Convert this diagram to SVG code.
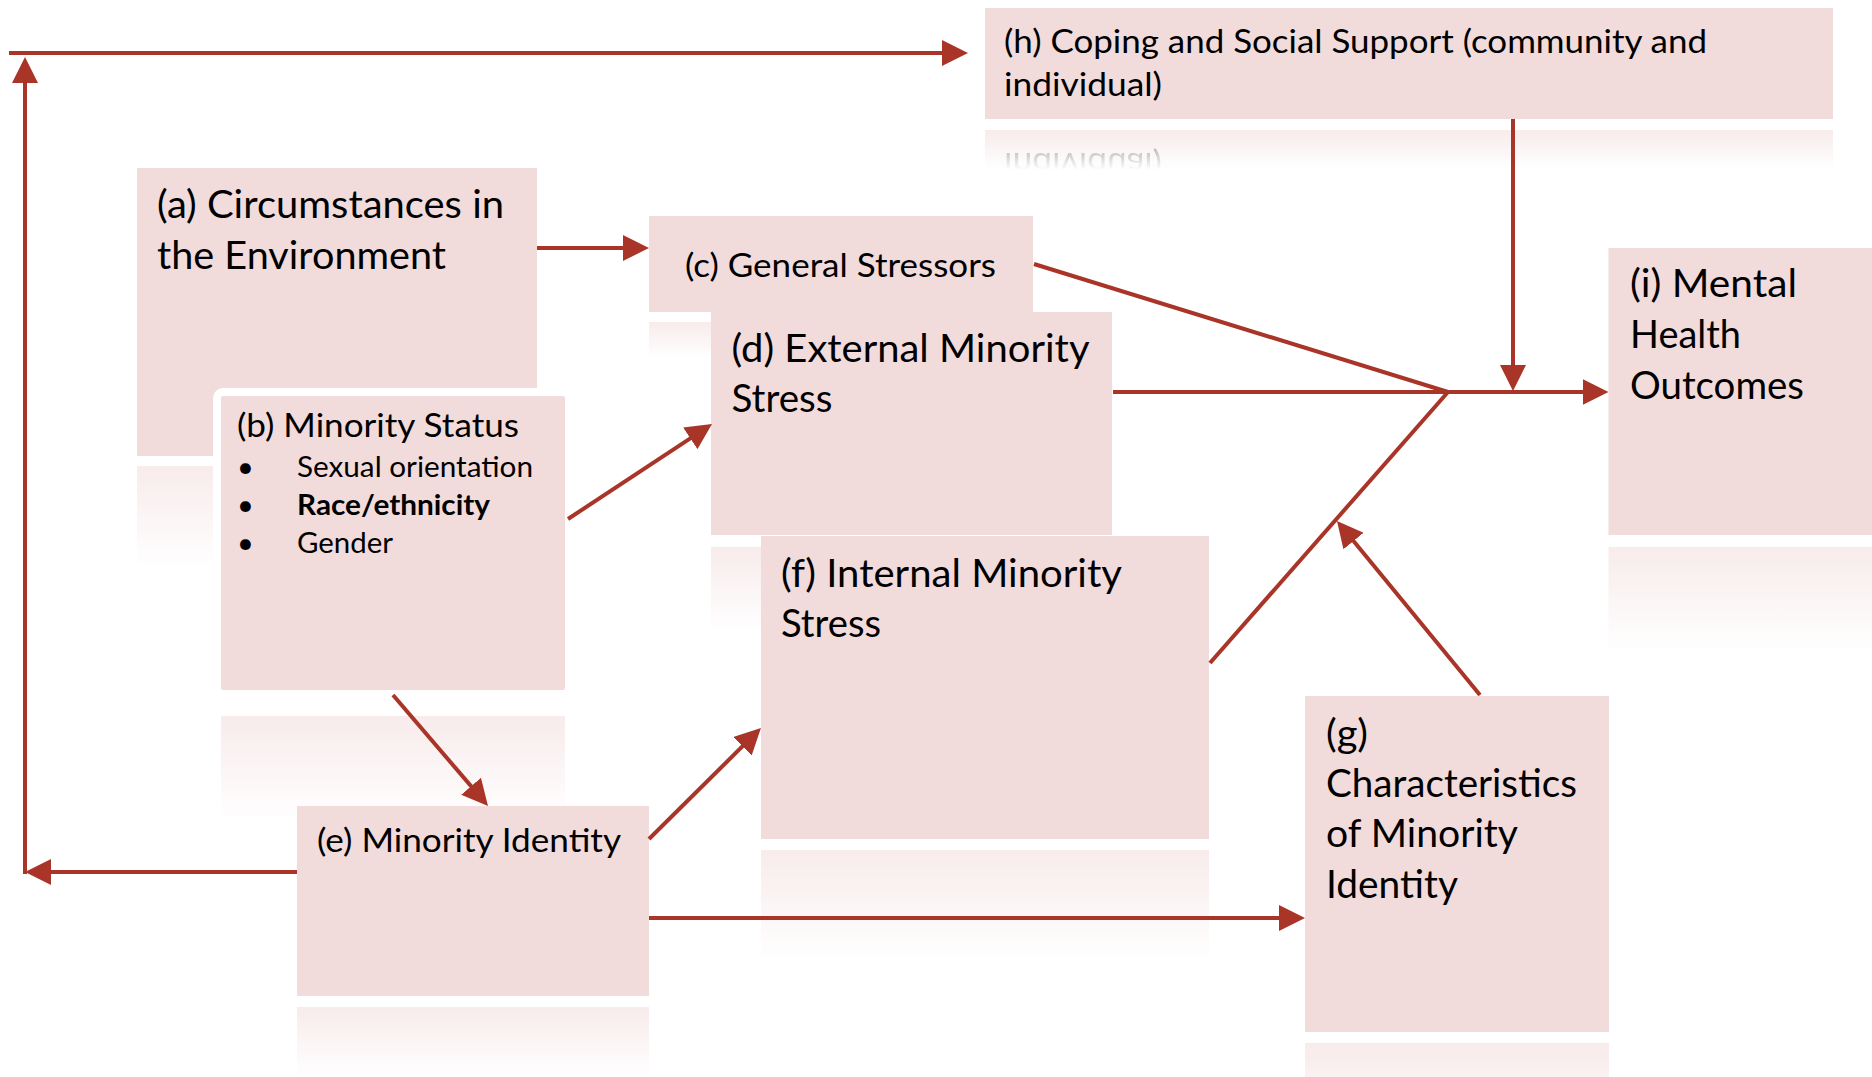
<svg xmlns="http://www.w3.org/2000/svg" width="1872" height="1077" viewBox="0 0 1872 1077">
<style>
.box{fill:#F2DBDB}
.refl{fill:url(#reflGrad)}
.t{font-family:Lato,"Open Sans","Liberation Sans",sans-serif;fill:#000}
.big{font-size:38px}
.mid{font-size:33.5px}
.sm{font-size:29px}
.b{font-weight:bold}
.ln{stroke:#A93428;stroke-width:4;fill:none}
.arr{marker-end:url(#ah)}
</style>
<defs>
<linearGradient id="reflGrad" x1="0" y1="0" x2="0" y2="1">
<stop offset="0" stop-color="#F2DBDB" stop-opacity="0.55"/>
<stop offset="1" stop-color="#F2DBDB" stop-opacity="0"/>
</linearGradient>
<linearGradient id="maskGrad" x1="0" y1="0" x2="0" y2="1">
<stop offset="0" stop-color="#fff" stop-opacity="0.45"/>
<stop offset="1" stop-color="#fff" stop-opacity="0"/>
</linearGradient>
<mask id="hMask" maskUnits="userSpaceOnUse" x="985" y="130" width="848" height="40">
<rect x="985" y="130" width="848" height="40" fill="url(#maskGrad)"/>
</mask>
<marker id="ah" markerUnits="userSpaceOnUse" markerWidth="26" markerHeight="26" refX="20" refY="13" orient="auto" viewBox="0 0 26 26">
<path d="M0,0 L26,13 L0,26 z" fill="#A93428"/>
</marker>
</defs>
<rect width="1872" height="1077" fill="#fff"/>

<g id="node-a">
<rect class="refl" x="137" y="466" width="400" height="101"/>
<rect class="box" x="137" y="168" width="400" height="288"/>
<text class="t big" x="157" y="218" textLength="347" lengthAdjust="spacingAndGlyphs">(a) Circumstances in</text>
<text class="t big" x="157" y="269" textLength="289" lengthAdjust="spacingAndGlyphs">the Environment</text>
</g>

<g id="node-b">
<rect class="refl" x="221" y="716" width="344" height="104"/>
<rect class="box" x="217" y="392" width="352" height="302" rx="6" stroke="#fff" stroke-width="8"/>
<text class="t mid" x="237" y="437" textLength="282" lengthAdjust="spacingAndGlyphs">(b) Minority Status</text>
<text class="t sm" x="237" y="477">•</text>
<text class="t sm" x="297" y="477" textLength="236" lengthAdjust="spacingAndGlyphs">Sexual orientation</text>
<text class="t sm" x="237" y="515">•</text>
<text class="t sm b" x="297" y="515" textLength="193" lengthAdjust="spacingAndGlyphs">Race/ethnicity</text>
<text class="t sm" x="237" y="553">•</text>
<text class="t sm" x="297" y="553" textLength="96" lengthAdjust="spacingAndGlyphs">Gender</text>
</g>

<g id="node-c">
<rect class="refl" x="649" y="322" width="384" height="36"/>
<rect class="box" x="649" y="216" width="384" height="96"/>
<text class="t mid" x="685" y="277" textLength="311" lengthAdjust="spacingAndGlyphs">(c) General Stressors</text>
</g>

<g id="node-d">
<rect class="refl" x="711" y="547" width="401" height="85"/>
<rect class="box" x="711" y="312" width="401" height="223"/>
<text class="t big" x="731.5" y="362" textLength="358" lengthAdjust="spacingAndGlyphs">(d) External Minority</text>
<text class="t big" x="731.5" y="412" textLength="101" lengthAdjust="spacingAndGlyphs">Stress</text>
</g>

<g id="node-f">
<rect class="refl" x="761" y="850" width="448" height="111"/>
<rect class="box" x="761" y="536" width="448" height="303"/>
<text class="t big" x="781" y="587" textLength="341" lengthAdjust="spacingAndGlyphs">(f) Internal Minority</text>
<text class="t big" x="781" y="637" textLength="100" lengthAdjust="spacingAndGlyphs">Stress</text>
</g>

<g id="node-e">
<rect class="refl" x="297" y="1007" width="352" height="70"/>
<rect class="box" x="297" y="806" width="352" height="190"/>
<text class="t mid" x="317" y="852" textLength="304" lengthAdjust="spacingAndGlyphs">(e) Minority Identity</text>
</g>

<g id="node-g">
<rect class="refl" x="1305" y="1043" width="304" height="118"/>
<rect class="box" x="1305" y="696" width="304" height="336"/>
<text class="t big" x="1326" y="747" textLength="42" lengthAdjust="spacingAndGlyphs">(g)</text>
<text class="t big" x="1326" y="797" textLength="251" lengthAdjust="spacingAndGlyphs">Characteristics</text>
<text class="t big" x="1326" y="847" textLength="192" lengthAdjust="spacingAndGlyphs">of Minority</text>
<text class="t big" x="1326" y="898" textLength="132" lengthAdjust="spacingAndGlyphs">Identity</text>
</g>

<g id="node-h">
<rect class="refl" x="985" y="130" width="848" height="40"/>
<g mask="url(#hMask)">
<text class="t mid" transform="matrix(1,0,0,-1,0,249)" x="1004" y="96" textLength="158" lengthAdjust="spacingAndGlyphs">individual)</text>
</g>
<rect class="box" x="985" y="8" width="848" height="111"/>
<text class="t mid" x="1004" y="53" textLength="703" lengthAdjust="spacingAndGlyphs">(h) Coping and Social Support (community and</text>
<text class="t mid" x="1004" y="96" textLength="158" lengthAdjust="spacingAndGlyphs">individual)</text>
</g>

<g id="node-i">
<rect class="refl" x="1608.5" y="547" width="263.5" height="106"/>
<rect class="box" x="1608.5" y="248" width="263.5" height="287"/>
<text class="t big" x="1630" y="297" textLength="167" lengthAdjust="spacingAndGlyphs">(i) Mental</text>
<text class="t big" x="1630" y="348" textLength="111" lengthAdjust="spacingAndGlyphs">Health</text>
<text class="t big" x="1630" y="399" textLength="174" lengthAdjust="spacingAndGlyphs">Outcomes</text>
</g>

<g id="connectors">
<line class="ln arr" x1="537" y1="248" x2="643" y2="248"/>
<line class="ln arr" x1="568" y1="519" x2="707" y2="427.3"/>
<line class="ln arr" x1="393" y1="695" x2="484.1" y2="801.4"/>
<line class="ln arr" x1="649" y1="839" x2="756.7" y2="732.2"/>
<line class="ln arr" x1="649" y1="918" x2="1299" y2="918"/>
<line class="ln" x1="1034" y1="264" x2="1448" y2="392"/>
<line class="ln" x1="1210" y1="663" x2="1448" y2="392"/>
<line class="ln arr" x1="1113" y1="392" x2="1602.5" y2="392"/>
<line class="ln arr" x1="1513" y1="119" x2="1513" y2="385"/>
<line class="ln arr" x1="1480" y1="695" x2="1340.8" y2="525.6"/>
<line class="ln arr" x1="297" y1="872" x2="31" y2="872"/>
<line class="ln arr" x1="25" y1="874" x2="25" y2="63"/>
<line class="ln arr" x1="9" y1="53" x2="962" y2="53"/>
</g>
</svg>
